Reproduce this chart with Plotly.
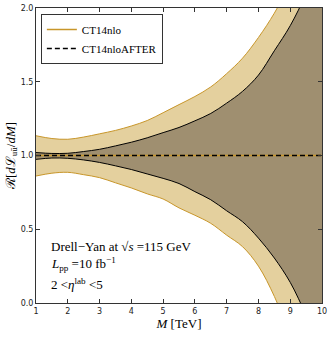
import plotly.graph_objects as go

# invariant mass grid [TeV]
mass = [1, 1.5, 2, 2.5, 3, 3.5, 4, 4.5, 5, 5.5, 6, 6.5, 7, 7.5, 8, 8.5, 9, 9.5, 10]

# CT14nlo band (ratio to central)
ct14_up = [1.134, 1.115, 1.11, 1.125, 1.147, 1.17, 1.20, 1.237, 1.29, 1.345, 1.40, 1.465,
           1.555, 1.66, 1.80, 1.965, 2.17, 2.42, 2.7]
ct14_lo = [0.861, 0.88, 0.886, 0.87, 0.85, 0.815, 0.78, 0.74, 0.705, 0.645, 0.595, 0.54,
           0.46, 0.382, 0.25, 0.045, -0.22, -0.5, -0.8]
ct14_mid = [1.0] * len(mass)

# CT14nloAFTER band
after_up = [1.02, 1.014, 1.015, 1.027, 1.042, 1.065, 1.09, 1.12, 1.155, 1.19, 1.235, 1.285,
            1.355, 1.435, 1.545, 1.71, 1.88, 2.1, 2.4]
after_lo = [0.974, 0.983, 0.981, 0.97, 0.953, 0.93, 0.905, 0.875, 0.845, 0.81, 0.755, 0.70,
            0.625, 0.551, 0.44, 0.305, 0.14, -0.08, -0.3]
after_mid = [1.0] * len(mass)

gold = '#c8962a'
light_fill = '#e4d09e'
dark_fill = '#9f8f70'
serif = 'Liberation Serif'

fig = go.Figure()

# light band
fig.add_trace(go.Scatter(x=mass, y=ct14_lo, mode='lines', line=dict(color=gold, width=1, shape='spline'),
                         showlegend=False, hoverinfo='skip'))
fig.add_trace(go.Scatter(x=mass, y=ct14_up, mode='lines', line=dict(color=gold, width=1, shape='spline'),
                         fill='tonexty', fillcolor=light_fill, showlegend=False, hoverinfo='skip'))
# dark band
fig.add_trace(go.Scatter(x=mass, y=after_lo, mode='lines', line=dict(color='black', width=1, shape='spline'),
                         showlegend=False, hoverinfo='skip'))
fig.add_trace(go.Scatter(x=mass, y=after_up, mode='lines', line=dict(color='black', width=1, shape='spline'),
                         fill='tonexty', fillcolor=dark_fill, showlegend=False, hoverinfo='skip'))

# central lines
fig.add_trace(go.Scatter(x=mass, y=ct14_mid, mode='lines', name='CT14nlo',
                         line=dict(color=gold, width=1.5)))
fig.add_trace(go.Scatter(x=mass, y=after_mid, mode='lines', name='CT14nloAFTER',
                         line=dict(color='black', width=1.5, dash='5px,3px')))

txt = [
    ('Drell\u2212Yan at \u221a<i>s</i> =115 GeV', 0.19),
    ('<i>L</i><sub>pp</sub> =10 fb<sup>\u22121</sup>', 0.132),
    ('2 &lt;<i>\u03b7</i><sup>lab</sup> &lt;5', 0.066),
]
for t, yy in txt:
    fig.add_annotation(text=t, x=0.045, y=yy, xref='paper', yref='paper', xanchor='left', yanchor='middle',
                       showarrow=False, font=dict(family=serif, size=13, color='black'))

axis_common = dict(showline=True, linecolor='#333333', linewidth=1, mirror='allticks', ticks='inside',
                   ticklen=4, tickcolor='#333333', showgrid=False, zeroline=False, automargin=False,
                   tickfont=dict(family='DejaVu Sans', size=8, color='#222222'))

fig.update_xaxes(range=[1, 10], dtick=1, tick0=1,
                 title=dict(text='<i>M</i> [TeV]', font=dict(family=serif, size=13, color='black'), standoff=2),
                 **axis_common)
fig.update_yaxes(range=[0, 2], dtick=0.5, tickformat='.1f',
                 title=dict(text='\u211b[<i>d</i>\u2112<sub>u\u016b</sub>/<i>dM</i>]',
                            font=dict(family=serif, size=13, color='black'), standoff=2),
                 **axis_common)

fig.update_layout(
    width=332, height=337,
    margin=dict(l=36, r=10, t=8, b=34),
    plot_bgcolor='white', paper_bgcolor='white',
    legend=dict(x=0.017, y=0.98, xanchor='left', yanchor='top', bordercolor='#333333', borderwidth=1,
                bgcolor='white', font=dict(family=serif, size=11, color='black'), tracegroupgap=0,
                traceorder='normal'),
)

# drop the default page margin so the figure sits at the window origin
fig.write_html('out.html', config={'displayModeBar': False},
               post_script="document.body.style.margin='0';")
